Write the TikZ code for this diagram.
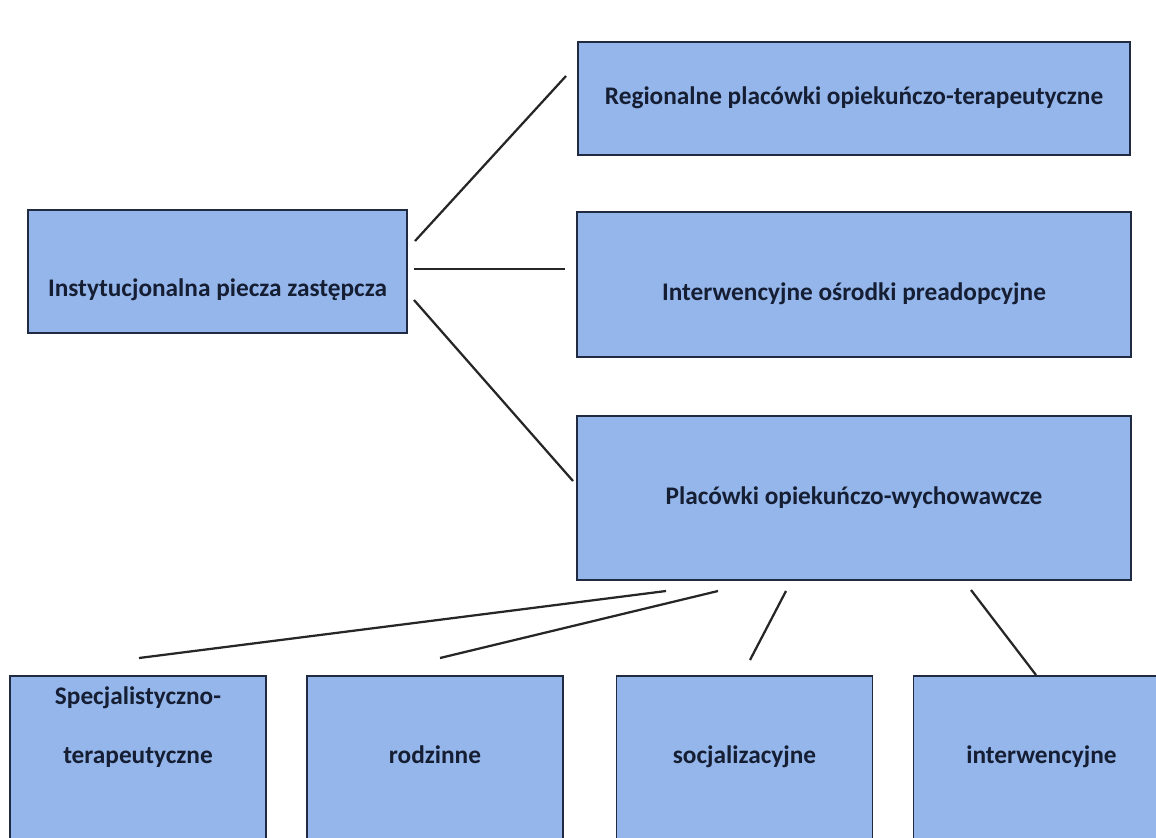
\documentclass[tikz,border=0pt]{standalone}
\usepackage{fontspec}
\setmainfont{Carlito}

\definecolor{boxfill}{RGB}{148,182,234}
\definecolor{boxline}{RGB}{32,42,64}
\definecolor{boxtext}{RGB}{22,30,52}

\tikzset{
  box/.style={draw=boxline, fill=boxfill, line width=1.3pt, rectangle,
    font=\bfseries\fontsize{18}{22}\selectfont, text=boxtext, align=center, text depth=0.1cm},
  lowbox/.style={box, minimum width=6.4cm, minimum height=4.6cm, text height=0.2cm, text depth=0.45cm},
  link/.style={line width=1.6pt, black!85}
}

\begin{document}
\begin{tikzpicture}[x=0.025cm, y=-0.025cm]
  \useasboundingbox (0,0) rectangle (1156,837);
  \clip (0,0) rectangle (1156,837);

  % upper level
  \node[box, minimum width=9.475cm, minimum height=3.075cm, text height=1.325cm] (inst) at (217.5,271.5) {Instytucjonalna piecza zastępcza};
  \node[box, minimum width=13.8cm, minimum height=2.825cm, text height=0.375cm] (reg) at (854,98.5) {Regionalne placówki opiekuńczo-terapeutyczne};
  \node[box, minimum width=13.85cm, minimum height=3.625cm, text height=0.875cm] (osr) at (854,284.5) {Interwencyjne ośrodki preadopcyjne};
  \node[box, minimum width=13.85cm, minimum height=4.1cm, text height=0.4cm] (plac) at (854,498) {Placówki opiekuńczo-wychowawcze};

  % lower level
  \node[lowbox] (spec) at (138,768) {Specjalistyczno-\\[0.7cm]terapeutyczne};
  \foreach \nm/\cx/\txt in {rodz/435/rodzinne, socj/744.5/socjalizacyjne, interw/1041.5/interwencyjne}
  {
    \node[lowbox] (\nm) at (\cx,768) {\txt};
  }

  % connector ends
  \coordinate (l1a) at (415,241);  \coordinate (l1b) at (566,76);
  \coordinate (l2a) at (414,269);  \coordinate (l2b) at (565,269);
  \coordinate (l3a) at (414,300);  \coordinate (l3b) at (573,481);
  \coordinate (l4a) at (666,591);  \coordinate (l4b) at (139,658);
  \coordinate (l5a) at (718,591);  \coordinate (l5b) at (440,658);
  \coordinate (l6a) at (786,591);  \coordinate (l6b) at (750,660);
  \coordinate (l7a) at (971,590);  \coordinate (l7b) at (1036,675);

  \foreach \i in {1,...,7}
    \draw[link] (l\i a) -- (l\i b);
\end{tikzpicture}
\end{document}
